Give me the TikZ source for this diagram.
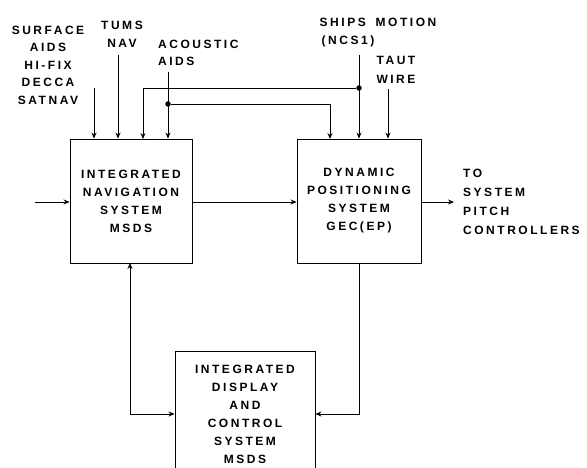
\documentclass[tikz,border=0pt]{standalone}
\usepackage{fontspec}
\usetikzlibrary{arrows.meta}
\newfontfamily\lblfont[LetterSpace=21]{Liberation Sans}
\tikzset{
  lbl/.style={font=\lblfont\bfseries\fontsize{12}{18}\selectfont, inner sep=0pt, align=center},
  blk/.style={draw, line width=0.9pt, inner sep=0pt, lbl},
  sig/.style={line width=0.8pt, -{Stealth[length=6pt,width=5pt]}},
  dot/.style={circle, fill, inner sep=0pt, minimum size=5.5pt}
}
\begin{document}
\begin{tikzpicture}[x=1pt, y=-1pt]
    \clip (0,0) rectangle (587,468);
    % Blocks
    \node[blk, minimum width=122pt, minimum height=124pt] (nav) at (131,201) {INTEGRATED\\NAVIGATION\\SYSTEM\\MSDS};
    \node[blk, minimum width=124pt, minimum height=124pt] (dp) at (359,201) {DYNAMIC\\POSITIONING\\SYSTEM\\GEC(EP)};
    \node[blk, minimum width=140pt, minimum height=126pt] (idc) at (245,414) {INTEGRATED\\DISPLAY\\AND\\CONTROL\\SYSTEM\\MSDS};
    % Inputs
    \node[lbl, font=\lblfont\bfseries\fontsize{12}{17.5}\selectfont] (surf) at (48,65) {SURFACE\\AIDS\\HI-FIX\\DECCA\\SATNAV};
    \node[lbl] (tums) at (122,34) {TUMS\\NAV};
    \node[lbl, anchor=west, align=left, font=\lblfont\bfseries\fontsize{12}{17}\selectfont] (acou) at (158,52.5) {ACOUSTIC\\AIDS};
    \node[lbl] (ships) at (378,22) {SHIPS\hspace{4pt} MOTION};
    \node[lbl] (ncs) at (348,41) {(NCS1)};
    \node[lbl, font=\lblfont\bfseries\fontsize{12}{19}\selectfont] (taut) at (396,69.5) {TAUT\\WIRE};
    \node[lbl, anchor=west, align=left, font=\lblfont\bfseries\fontsize{12}{19}\selectfont] (pitch) at (463,201.5) {TO\\SYSTEM\\PITCH\\CONTROLLERS};
    \coordinate (saIn) at (94,88);
    \coordinate (tumsIn) at (118,55);
    \coordinate (acIn) at (168,72);
    \coordinate (shIn) at (359,55);
    \coordinate (twIn) at (388,89);
    \coordinate (leftIn) at (35,202);
    \coordinate (pitchOut) at (454,202);
    \node[dot] (acDot) at (168,104) {};
    \node[dot] (shDot) at (359,88) {};
    % Signals into the top
    \draw[sig] (saIn) -- (saIn |- nav.north);
    \draw[sig] (tumsIn) -- (tumsIn |- nav.north);
    \draw[sig] (acIn) -- (acIn |- nav.north);
    \draw[sig] (shIn) -- (shIn |- dp.north);
    \draw[sig] (twIn) -- (twIn |- dp.north);
    \draw[sig] (shDot) -- (143,88) -- (143,139);
    \draw[sig] (acDot) -- (330,104) -- (330,139);
    % Through the middle
    \draw[sig] (leftIn) -- (leftIn -| nav.west);
    \draw[sig] (nav.east |- leftIn) -- (leftIn -| dp.west);
    \draw[sig] (dp.east |- pitchOut) -- (pitchOut);
    % Down to the display
    \draw[sig, {Stealth[length=6pt,width=5pt]}-{Stealth[length=6pt,width=5pt]}] (130,263) |- (idc.west);
    \draw[sig] (dp.south) |- (idc.east);
\end{tikzpicture}
\end{document}
